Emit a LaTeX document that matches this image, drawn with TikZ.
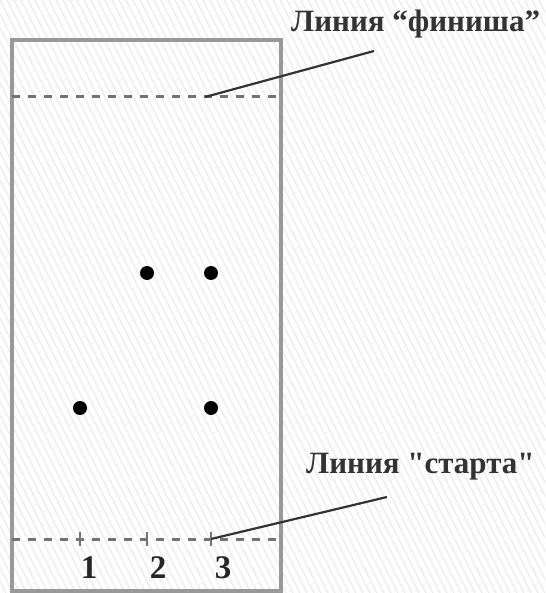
\documentclass[tikz,border=0pt]{standalone}
\usepackage{fontspec}
\setmainfont{Liberation Serif}
\begin{document}
\begin{tikzpicture}[x=1pt,y=-1pt,
  frame/.style={draw=gray!80,line width=3.2pt},
  dline/.style={draw=black!55,line width=3pt,dash pattern=on 8pt off 8pt},
  leader/.style={draw=black!80,line width=2.2pt},
  dot/.style={circle,fill=black,inner sep=0pt,minimum size=14pt},
  lbl/.style={font=\fontsize{31}{34}\selectfont\bfseries,text=black!80,inner sep=0pt},
  num/.style={font=\fontsize{33}{36}\selectfont\bfseries,text=black!85,inner sep=0pt},
  tick/.style={draw=black!55,line width=2pt}]
\useasboundingbox (0,0) rectangle (545,593);
\begin{scope}
\clip (0,0) rectangle (545,593);
\foreach \i in {-60,...,110}{
  \draw[gray!16,line width=1.2pt] (\i*7,0) -- (\i*7+300,593);
}
\end{scope}
% frame
\draw[frame] (12,40) rectangle (281,591);
% finish and start lines
\coordinate (fL) at (12,97); \coordinate (fR) at (281,97);
\coordinate (sL) at (12,539); \coordinate (sR) at (281,539);
\draw[dline] (fL) -- (fR);
\draw[dline] (sL) -- (sR);
% ticks
\foreach \x/\n in {80/t1,147/t2,211/t3}{
  \coordinate (\n) at (\x,539);
  \draw[tick] (\x,532) -- (\x,546);
}
% labels
\node[lbl,anchor=west] (fin) at (291,24) {Линия “финиша”};
\node[lbl,anchor=west] (sta) at (306,467) {Линия \textquotedbl старта\textquotedbl};
\coordinate (fend) at (374,51);
\coordinate (send) at (387,497);
\coordinate (fstart) at (205,97);
\draw[leader] (fstart) -- (fend);
\draw[leader] (t3) -- (send);
% dots
\node[dot] (d1) at (147,273) {};
\node[dot] (d2) at (211,273) {};
\node[dot] (d3) at (80,408) {};
\node[dot] (d4) at (211,408) {};
% numbers
\node[num] (n1) at (89,568) {1};
\node[num] (n2) at (158,568) {2};
\node[num] (n3) at (223,568) {3};
\end{tikzpicture}
\end{document}
